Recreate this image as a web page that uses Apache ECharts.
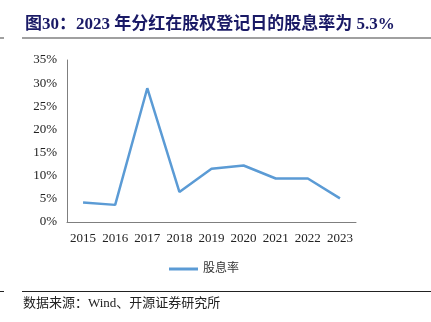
<!DOCTYPE html>
<html><head><meta charset="utf-8">
<script src="https://cdn.jsdelivr.net/npm/echarts@6/dist/echarts.min.js"></script>
<style>html,body{margin:0;padding:0;background:#fff}#c{width:431px;height:322px}</style>
</head><body><div id="c"></div>
<script>
var categories = ['2015','2016','2017','2018','2019','2020','2021','2022','2023'];
var yieldValues = [4.2, 3.7, 28.9, 6.5, 11.5, 12.2, 9.4, 9.4, 5.1];
var seriesName = '股息率';
var titleText = '图30：2023 年分红在股权登记日的股息率为 5.3%';
var sourceText = '数据来源：Wind、开源证券研究所';

var FONT = '"Liberation Serif","Noto Sans CJK SC",serif';
var chart = echarts.init(document.getElementById('c'));
chart.setOption({
  animation: false,
  textStyle: {fontFamily: FONT},
  grid: {left: 67, right: 75, top: 60, bottom: 100},
  legend: {
    data: [seriesName], top: 258, left: 164, itemWidth: 29, itemHeight: 3,
    icon: 'rect', itemGap: 2,
    textStyle: {fontFamily: FONT, fontSize: 12, color: '#333'}
  },
  xAxis: {
    type: 'category', data: categories, boundaryGap: true,
    axisLine: {lineStyle: {color: '#7f7f7f', width: 1}},
    axisTick: {inside: true, length: 4, lineStyle: {color: '#7f7f7f'}},
    axisLabel: {color: '#222', fontSize: 13, fontFamily: FONT, margin: 10, interval: 0}
  },
  yAxis: {
    type: 'value', min: 0, max: 35, interval: 5,
    axisLine: {show: true, lineStyle: {color: '#7f7f7f', width: 1}},
    axisTick: {show: false},
    splitLine: {show: false},
    axisLabel: {color: '#222', fontSize: 13, fontFamily: FONT, margin: 10, formatter: '{value}%'}
  },
  series: [{
    name: seriesName, type: 'line', data: yieldValues, symbol: 'none',
    lineStyle: {color: '#5B9BD5', width: 2.5}, itemStyle: {color: '#5B9BD5'}
  }],
  graphic: [
    {type: 'text', left: 25, top: 16, style: {text: titleText, font: 'bold 17px ' + FONT, fill: '#1A1A66'}},
    {type: 'line', shape: {x1: 22, y1: 38, x2: 431, y2: 38}, style: {stroke: '#808080', lineWidth: 1.5}},
    {type: 'line', shape: {x1: 0, y1: 38, x2: 4, y2: 38}, style: {stroke: '#808080', lineWidth: 1.5}},
    {type: 'line', shape: {x1: 22, y1: 291.5, x2: 431, y2: 291.5}, style: {stroke: '#222', lineWidth: 1}},
    {type: 'line', shape: {x1: 0, y1: 291.5, x2: 4, y2: 291.5}, style: {stroke: '#222', lineWidth: 1}},
    {type: 'text', left: 23, top: 297, style: {text: sourceText, font: '13px ' + FONT, fill: '#222'}}
  ]
});
</script></body></html>
